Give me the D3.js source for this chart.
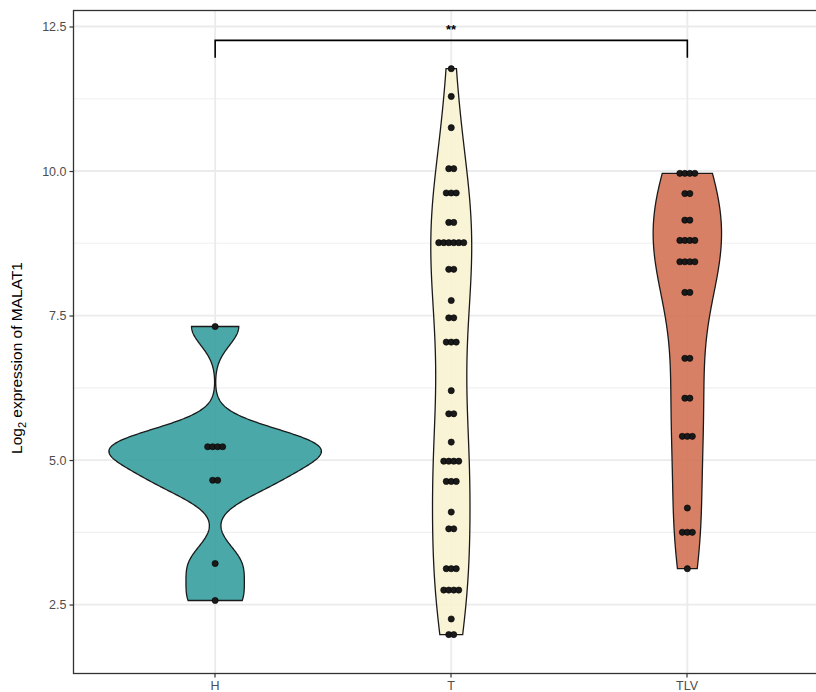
<!DOCTYPE html>
<html>
<head>
<meta charset="utf-8">
<script src="https://cdn.jsdelivr.net/npm/d3@7"></script>
<style>
  html, body { margin: 0; padding: 0; background: #fff; }
  svg { display: block; font-family: "Liberation Sans", Arial, sans-serif; }
</style>
</head>
<body>
<svg id="chart" width="816" height="692"></svg>
<script>
// Groups and their MALAT1 log2 expression values (stacked dot rows: value × count)
const groups = ["H", "T", "TLV"];
const hValues = [7.31, 5.23, 5.23, 5.23, 5.23, 4.65, 4.65, 3.21, 2.57];
const tValues = [11.77, 11.29, 10.75, 10.04, 10.04, 9.62, 9.62, 9.62, 9.11, 9.11,
  8.76, 8.76, 8.76, 8.76, 8.76, 8.76, 8.30, 8.30, 7.76, 7.46, 7.46, 7.04, 7.04, 7.04,
  6.20, 5.80, 5.80, 5.31, 4.98, 4.98, 4.98, 4.98, 4.63, 4.63, 4.63, 4.10, 3.81, 3.81,
  3.12, 3.12, 3.12, 2.75, 2.75, 2.75, 2.75, 2.25, 1.98, 1.98];
const tlvValues = [9.96, 9.96, 9.96, 9.96, 9.61, 9.61, 9.15, 9.15, 8.80, 8.80, 8.80, 8.80,
  8.43, 8.43, 8.43, 8.43, 7.90, 7.90, 6.76, 6.76, 6.07, 6.07, 5.41, 5.41, 5.41, 4.17,
  3.75, 3.75, 3.75, 3.12];
const groupFills = ["#379e9e", "#f9f3d1", "#d47254"];
// bandwidth multiplier for each group's density estimate
const bwAdjust = [1.3, 1, 1];
const yTicks = [2.5, 5.0, 7.5, 10.0, 12.5];
const yMinorTicks = [3.75, 6.25, 8.75, 11.25];
// Significance bracket between H and TLV
const bracketPair = ["H", "TLV"];
const bracketLevel = [12.26, 11.96]; // bar height, tip end
const bracketLabel = "**";

const valuesByGroup = [hValues, tValues, tlvValues];

const svg = d3.select("#chart");
const panel = { left: 73.5, top: 10.5, right: 829, bottom: 673.5 };

const x = d3.scalePoint().domain(groups).range([panel.left, panel.right]).padding(0.6);
const y = d3.scaleLinear().domain([1.307, 12.777]).range([panel.bottom, panel.top]);

// Grid
const grid = svg.append("g");
grid.selectAll("line.minor").data(yMinorTicks).join("line")
  .attr("x1", panel.left).attr("x2", panel.right)
  .attr("y1", d => y(d)).attr("y2", d => y(d))
  .attr("stroke", "#f0f0f0").attr("stroke-width", 1.2);
grid.selectAll("line.major").data(yTicks).join("line")
  .attr("x1", panel.left).attr("x2", panel.right)
  .attr("y1", d => y(d)).attr("y2", d => y(d))
  .attr("stroke", "#ebebeb").attr("stroke-width", 1.8);
grid.selectAll("line.vert").data(groups).join("line")
  .attr("x1", d => x(d)).attr("x2", d => x(d))
  .attr("y1", panel.top).attr("y2", panel.bottom)
  .attr("stroke", "#ebebeb").attr("stroke-width", 1.8);

// Kernel density (gaussian, Silverman's rule of thumb bandwidth), trimmed to data range
function bwNrd0(v) {
  const s = d3.sort(v);
  const sd = d3.deviation(s);
  const iqr = (d3.quantileSorted(s, 0.75) - d3.quantileSorted(s, 0.25)) / 1.34;
  return 0.9 * Math.min(sd, iqr) * Math.pow(s.length, -0.2);
}
function density(v, adjust) {
  const h = bwNrd0(v) * adjust;
  const lo = d3.min(v), hi = d3.max(v);
  const n = 512;
  const k = 1 / (v.length * h * Math.sqrt(2 * Math.PI));
  return d3.range(n).map(i => {
    const at = lo + (hi - lo) * i / (n - 1);
    const d = k * d3.sum(v, xi => Math.exp(-0.5 * ((at - xi) / h) ** 2));
    return { at, d };
  });
}
const dens = valuesByGroup.map((v, i) => density(v, bwAdjust[i]));
const maxDens = d3.max(dens, ds => d3.max(ds, p => p.d));
const halfWidth = d3.scaleLinear().domain([0, maxDens]).range([0, 0.45 * x.step()]);

const violins = svg.append("g");
groups.forEach((g, i) => {
  const cx = x(g);
  const area = d3.area()
    .x0(p => cx - halfWidth(p.d))
    .x1(p => cx + halfWidth(p.d))
    .y(p => y(p.at));
  violins.append("path")
    .attr("d", area(dens[i]))
    .attr("fill", groupFills[i])
    .attr("fill-opacity", 0.9)
    .attr("stroke", "#1a1a1a")
    .attr("stroke-width", 1.3);
});

// Centered dot stacks
const dotR = 3.1, dotStep = 5;
const dots = svg.append("g");
groups.forEach((g, i) => {
  const rows = d3.rollups(valuesByGroup[i], r => r.length, d => d);
  rows.forEach(([val, count]) => {
    for (let j = 0; j < count; j++) {
      dots.append("circle")
        .attr("cx", x(g) + (j - (count - 1) / 2) * dotStep)
        .attr("cy", y(val))
        .attr("r", dotR)
        .attr("fill", "#1a1a1a")
        .attr("stroke", "#000")
        .attr("stroke-width", 0.6);
    }
  });
});

// Significance bracket
const bx1 = x(bracketPair[0]), bx2 = x(bracketPair[1]);
svg.append("path")
  .attr("d", `M${bx1},${y(bracketLevel[1])}V${y(bracketLevel[0])}H${bx2}V${y(bracketLevel[1])}`)
  .attr("fill", "none").attr("stroke", "#000").attr("stroke-width", 1.6);
svg.append("text")
  .attr("x", Math.round((bx1 + bx2) / 2)).attr("y", Math.round(y(bracketLevel[0]) - 6))
  .attr("text-anchor", "middle").attr("font-size", 13).attr("font-weight", "bold").attr("fill", "#000")
  .text(bracketLabel);

// Panel border
svg.append("rect")
  .attr("x", panel.left).attr("y", panel.top)
  .attr("width", panel.right - panel.left).attr("height", panel.bottom - panel.top)
  .attr("fill", "none").attr("stroke", "#333").attr("stroke-width", 1.3);

// Axes
const yAxis = d3.axisLeft(y).tickValues(yTicks).tickFormat(d3.format(".1f")).tickSize(4).tickPadding(3);
const gy = svg.append("g").attr("transform", `translate(${panel.left},0)`).call(yAxis);
gy.select(".domain").remove();
gy.selectAll(".tick line").attr("stroke", "#333").attr("stroke-width", 1.2);
gy.selectAll(".tick text").attr("fill", "#4d4d4d").attr("font-size", 12.5)
  .attr("font-family", "Liberation Sans, Arial, sans-serif");

const xAxis = d3.axisBottom(x).tickSize(4).tickPadding(4);
const gx = svg.append("g").attr("transform", `translate(0,${panel.bottom})`).call(xAxis);
gx.select(".domain").remove();
gx.selectAll(".tick").attr("transform", d => `translate(${Math.round(x(d))},0)`);
gx.selectAll(".tick line").attr("stroke", "#333").attr("stroke-width", 1.2);
gx.selectAll(".tick text").attr("fill", "#4d4d4d").attr("font-size", 12.5)
  .attr("font-family", "Liberation Sans, Arial, sans-serif");

// Y title with subscript
const yt = svg.append("text")
  .attr("transform", `translate(22,${Math.round((panel.top + panel.bottom) / 2 + 16)}) rotate(-90)`)
  .attr("text-anchor", "middle").attr("font-size", 15.5).attr("fill", "#000");
yt.append("tspan").text("Log");
yt.append("tspan").attr("font-size", 11).attr("dy", 4).text("2");
yt.append("tspan").attr("dy", -4).text(" expression of MALAT1");
</script>
</body>
</html>
